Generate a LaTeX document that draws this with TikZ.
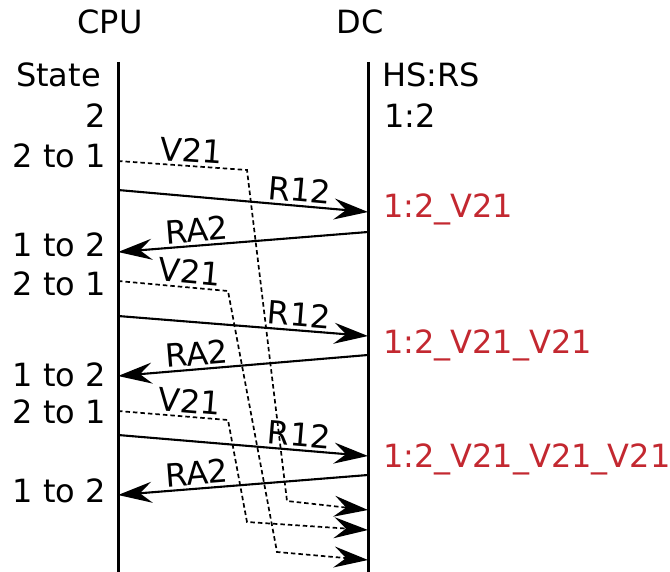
\documentclass[tikz,border=0pt]{standalone}
\usepackage{fontspec}
\setmainfont{DejaVu Sans}
\usetikzlibrary{arrows.meta}
\definecolor{hsred}{RGB}{195,40,48}

\begin{document}
\begin{tikzpicture}[
    x=1pt, y=-1pt,
    font=\fontsize{32}{37}\selectfont,
    life/.style={line width=3pt},
    msg/.style={-{Stealth[length=34pt, width=21pt, inset=12pt]},
                line width=2.1pt},
    vmsg/.style={msg, line width=1.7pt, dash pattern=on 4.5pt off 3pt},
    st/.style={anchor=base east, inner sep=0pt},
    hs/.style={anchor=base west, inner sep=0pt},
    hsnew/.style={hs, text=hsred},
    lbl/.style={above, sloped, inner sep=3pt},
]
  \useasboundingbox (0,0) rectangle (670,572);

  % Lifelines
  \node[anchor=base] (cpu) at (110,34) {CPU};
  \node[anchor=base] (dc)  at (360,34) {DC};
  \coordinate (cputop) at (118,62);  \coordinate (cpubot) at (118,572);
  \coordinate (dctop)  at (368,62);  \coordinate (dcbot)  at (368,572);
  \draw[life] (cputop) -- (cpubot);
  \draw[life] (dctop) -- (dcbot);

  % CPU states
  \node[st] (state) at (101,87)  {State};
  \node[st] (s0)    at (106,128) {2};
  \node[st] (s1)    at (106,168) {2 to 1};
  \node[st] (s2)    at (106,257) {1 to 2};
  \node[st] (s3)    at (106,296) {2 to 1};
  \node[st] (s4)    at (106,386) {1 to 2};
  \node[st] (s5)    at (106,423) {2 to 1};
  \node[st] (s6)    at (106,502) {1 to 2};

  % DC states
  \node[hs]    (hsrs) at (382,87)  {HS:RS};
  \node[hs]    (h0)   at (384,128) {1:2};
  \node[hsnew] (h1)   at (383,218) {1:2\_V21};
  \node[hsnew] (h2)   at (383,354) {1:2\_V21\_V21};
  \node[hsnew] (h3)   at (383,467) {1:2\_V21\_V21\_V21};

  % message end points on the lifelines
  \coordinate (v1a) at (118,161);  \coordinate (v1b) at (368,510);
  \coordinate (r1a) at (118,190);  \coordinate (r1b) at (368,212);
  \coordinate (a1a) at (368,232);  \coordinate (a1b) at (118,252);
  \coordinate (v2a) at (118,281);  \coordinate (v2b) at (368,560);
  \coordinate (r2a) at (118,316);  \coordinate (r2b) at (368,336);
  \coordinate (a2a) at (368,355);  \coordinate (a2b) at (118,376);
  \coordinate (v3a) at (118,411);  \coordinate (v3b) at (368,530);
  \coordinate (r3a) at (118,435);  \coordinate (r3b) at (368,456);
  \coordinate (a3a) at (368,475);  \coordinate (a3b) at (118,495);

  % delayed V21 messages
  \draw[vmsg] (v1a) -- node[lbl, pos=0.56] (v1) {V21} (247,170)
              -- (287,501) -- (v1b);
  \draw[vmsg] (v2a) -- node[lbl, pos=0.64] (v2) {V21} (228,291)
              -- (277,552) -- (v2b);
  \draw[vmsg] (v3a) -- node[lbl, pos=0.64] (v3) {V21} (228,420)
              -- (247,522) -- (v3b);

  % R12 requests and RA2 acks
  \draw[msg] (r1a) -- node[lbl, pos=0.72] (r1) {R12} (r1b);
  \draw[msg] (a1a) -- node[lbl, pos=0.68] (a1) {RA2} (a1b);
  \draw[msg] (r2a) -- node[lbl, pos=0.72] (r2) {R12} (r2b);
  \draw[msg] (a2a) -- node[lbl, pos=0.68] (a2) {RA2} (a2b);
  \draw[msg] (r3a) -- node[lbl, pos=0.72] (r3) {R12} (r3b);
  \draw[msg] (a3a) -- node[lbl, pos=0.68] (a3) {RA2} (a3b);
\end{tikzpicture}
\end{document}
